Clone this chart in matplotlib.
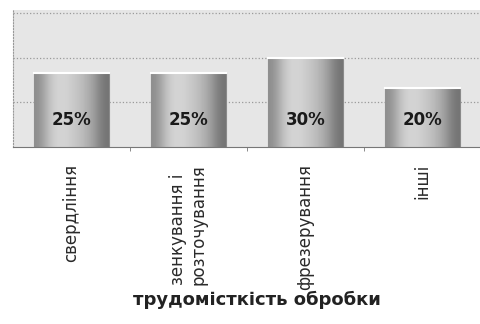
import numpy as np
import matplotlib.pyplot as plt

# дані з діаграми
kategorii = ['свердління', 'зенкування і\nрозточування', 'фрезерування', 'інші']
chastka = [0.25, 0.25, 0.30, 0.20]
pidpysy = ['25%', '25%', '30%', '20%']

fig = plt.figure(figsize=(4.81, 3.24), dpi=100)
ax = fig.add_axes([0.027, 0.546, 0.973, 0.423])
ax.set_facecolor('#e6e6e6')

x = np.arange(len(kategorii))
bars = ax.bar(x, chastka, width=0.64, color='#b4b4b4', edgecolor='#8a8a8a',
              linewidth=0.8, zorder=2)

# градієнт на стовпчиках (темніші краї, світлий верх)
grad = np.array([[0.55, 0.78, 0.85, 0.8, 0.74, 0.64, 0.45]])
for b in bars:
    ax.imshow(grad, cmap='gray', vmin=0, vmax=1, aspect='auto',
              extent=(b.get_x(), b.get_x() + b.get_width(), 0, b.get_height()),
              zorder=2.5, interpolation='bicubic')
    ax.plot([b.get_x(), b.get_x() + b.get_width()], [b.get_height()] * 2,
            color='white', linewidth=1.5, zorder=3)

for xi, t in zip(x, pidpysy):
    ax.text(xi, 0.09, t, ha='center', va='center', fontsize=12,
            fontweight='bold', color='#1a1a1a', zorder=4)

ax.set_xlim(-0.5, len(kategorii) - 0.5)
ax.set_ylim(0, 0.46)
ax.set_yticks([0.15, 0.30, 0.45])
ax.yaxis.set_tick_params(length=0, labelleft=False)
ax.grid(axis='y', color='#9a9a9a', linestyle=':', linewidth=0.9, zorder=1)

ax.set_xticks(x)
ax.set_xticklabels(kategorii, rotation=90, fontsize=12, color='#2a2a2a',
                   va='top', ha='center', multialignment='left')
ax.tick_params(axis='x', which='major', length=0, pad=12)
ax.set_xticks([0.5, 1.5, 2.5], minor=True)
ax.tick_params(axis='x', which='minor', length=3, color='#777777')

for s in ['top', 'right']:
    ax.spines[s].set_visible(False)
ax.spines['left'].set_color('#999999')
ax.spines['left'].set_linestyle(':')
ax.spines['bottom'].set_color('#777777')

fig.text(257 / 481, 1 - 300 / 324, 'трудомісткість обробки', ha='center',
         va='center', fontsize=13, fontweight='bold', color='#222222')

plt.savefig('out.png', dpi=100)
